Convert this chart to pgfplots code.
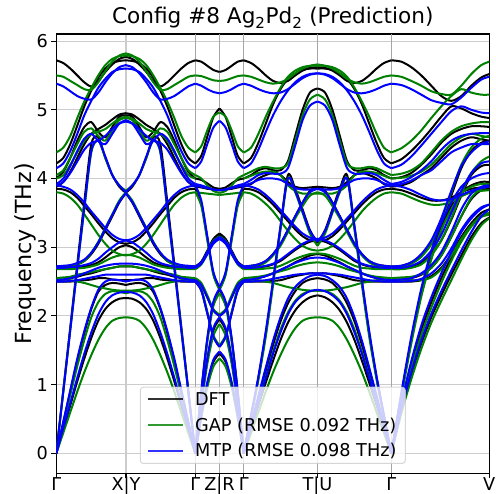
\documentclass[border=0pt]{standalone}
\usepackage{pgfplots}
\pgfplotsset{compat=1.18}
\usepackage{pgfplotstable}
\usepackage{fontspec}
\setmainfont{DejaVu Sans}
\definecolor{mplgreen}{RGB}{0,128,0}
\definecolor{mplblue}{RGB}{0,0,255}
\definecolor{gridc}{RGB}{204,204,204}
\definecolor{gridd}{RGB}{165,165,165}

% ---------- DFT ----------
\pgfplotstableread{
u    b1   b2   b3   b4   b5   b6   b7   b8   b9   b10  b11  b12
0    0    0    0    2.50 2.52 2.70 2.72 3.85 3.88 4.00 4.22 5.72
7    0.35 0.45 0.92 2.50 2.53 2.70 2.72 3.84 3.95 4.10 4.30 5.68
14   0.70 0.90 1.84 2.50 2.55 2.70 2.73 3.80 4.10 4.30 4.50 5.60
21   1.05 1.35 2.76 2.51 2.57 2.71 2.75 3.72 4.30 4.55 4.77 5.50
28   1.38 1.75 3.66 2.52 2.60 2.72 2.80 3.60 4.50 4.75 5.05 5.40
35   1.68 2.10 4.50 2.53 2.62 2.74 2.90 3.48 4.65 4.82 5.28 5.34
42   1.93 2.35 4.60 2.55 2.65 2.78 3.05 3.35 4.72 4.68 5.47 5.42
49   2.10 2.45 4.30 2.55 2.68 2.85 3.25 3.23 4.78 4.60 5.60 5.55
56   2.20 2.48 4.05 2.53 2.70 2.93 3.45 3.13 4.86 4.75 5.68 5.66
63   2.25 2.47 3.88 2.52 2.72 3.00 3.65 3.07 4.93 4.90 5.71 5.74
69.7 2.26 2.45 3.79 2.52 2.72 3.03 3.79 3.05 4.95 4.92 5.72 5.77
}\dftA
\pgfplotstableread{
u    b1   b2   b3   b4   b5   b6   b7   b8   b9   b10  b11  b12
0    0    0    0    2.50 2.52 2.70 2.72 3.85 3.88 4.00 4.22 5.72
6    0.55 0.73 0.90 2.37 2.45 2.77 2.79 3.64 3.87 3.98 4.33 5.70
12   1.01 1.36 1.66 2.04 2.27 2.93 2.95 3.14 3.85 3.93 4.61 5.64
18   1.33 1.79 2.19 1.70 2.08 3.10 3.12 2.63 3.84 3.87 4.89 5.58
24.2 1.45 1.95 2.38 1.55 2.00 3.18 3.20 2.40 3.83 3.85 5.02 5.55
}\dftB
\pgfplotstableread{
u    b1   b2   b3   b4   b5   b6   b7   b8   b9   b10  b11  b12
0    0    0    0    2.50 2.52 2.70 2.72 3.85 3.88 4.00 4.22 5.72
7.4  0.35 0.40 0.55 2.50 2.53 2.70 2.73 3.84 3.92 4.05 4.30 5.68
14.7 0.70 0.80 1.10 2.50 2.55 2.71 2.75 3.80 4.00 4.12 4.52 5.60
22.1 1.03 1.20 1.75 2.50 2.58 2.72 2.80 3.72 4.05 4.15 4.80 5.50
29.4 1.35 1.58 2.50 2.51 2.62 2.75 2.90 3.62 4.08 4.12 5.08 5.42
36.8 1.65 1.92 3.30 2.52 2.67 2.80 3.05 3.50 4.05 4.12 5.30 5.39
44.2 1.90 2.18 4.05 2.55 2.72 2.88 3.25 3.38 3.95 4.25 5.45 5.42
51.5 2.08 2.36 3.85 2.58 2.78 2.96 3.45 3.26 3.88 4.62 5.53 5.50
58.9 2.20 2.48 3.55 2.60 2.83 3.03 3.65 3.16 3.86 5.00 5.58 5.57
66.2 2.27 2.53 3.25 2.62 2.88 3.08 3.82 3.10 3.87 5.25 5.60 5.61
73.8 2.30 2.55 3.06 2.62 2.90 3.10 3.88 3.08 3.88 5.31 5.60 5.62
}\dftC
\pgfplotstableread{
u    b1   b2   b3   b4   b5   b6   b7   b8   b9   b10  b11  b12
0    0    0    0    2.50 2.52 2.70 2.72 3.85 3.88 4.00 4.22 5.72
10   0.62 0.70 0.85 2.50 2.53 2.70 2.73 3.83 3.90 4.02 4.28 5.70
20   1.15 1.30 1.65 2.50 2.55 2.72 2.78 3.78 3.95 4.08 4.40 5.62
30   1.60 1.80 2.35 2.52 2.60 2.78 2.88 3.72 4.05 4.20 4.55 5.50
40   1.98 2.20 2.90 2.58 2.70 2.90 3.05 3.68 4.15 4.35 4.72 5.35
50   2.30 2.55 3.30 2.70 2.88 3.10 3.35 3.68 4.30 4.52 4.90 5.20
60   2.60 2.85 3.60 2.90 3.15 3.40 3.75 3.72 4.45 4.65 5.05 5.13
70   2.88 3.12 3.80 3.15 3.45 3.75 4.15 3.80 4.55 4.72 5.02 5.20
80   3.15 3.32 3.90 3.35 3.70 4.05 4.40 3.85 4.60 4.76 4.95 5.35
90   3.35 3.45 3.95 3.50 3.83 4.18 4.52 3.87 4.57 4.76 4.90 5.47
98   3.43 3.48 3.95 3.55 3.85 4.20 4.55 3.88 4.55 4.75 4.88 5.52
}\dftD

% ---------- GAP ----------
\pgfplotstableread{
u    b1   b2   b3   b4   b5   b6   b7   b8   b9   b10  b11  b12
0    0    0    0    2.53 2.55 2.68 2.70 3.80 4.00 4.05 4.38 5.50
7    0.30 0.42 0.90 2.53 2.56 2.68 2.70 3.78 4.05 4.12 4.45 5.48
14   0.60 0.85 1.80 2.52 2.57 2.68 2.72 3.72 4.20 4.30 4.62 5.42
21   0.90 1.27 2.70 2.50 2.60 2.69 2.75 3.62 4.38 4.50 4.88 5.36
28   1.18 1.65 3.55 2.48 2.62 2.70 2.80 3.48 4.55 4.68 5.12 5.30
35   1.43 1.98 4.38 2.45 2.64 2.72 2.92 3.33 4.65 4.73 5.32 5.29
42   1.65 2.20 4.55 2.42 2.66 2.75 3.08 3.18 4.68 4.62 5.50 5.40
49   1.82 2.32 4.30 2.40 2.68 2.80 3.28 3.05 4.72 4.55 5.65 5.56
56   1.93 2.36 4.05 2.38 2.70 2.85 3.48 2.95 4.80 4.70 5.74 5.70
63   1.97 2.35 3.90 2.37 2.72 2.88 3.68 2.90 4.87 4.85 5.78 5.79
69.7 1.98 2.33 3.82 2.37 2.72 2.89 3.80 2.88 4.90 4.88 5.79 5.82
}\gapA
\pgfplotstableread{
u    b1   b2   b3   b4   b5   b6   b7   b8   b9   b10  b11  b12
0    0    0    0    2.53 2.55 2.68 2.70 3.80 3.80 4.05 4.38 5.50
6    0.52 0.70 0.88 2.40 2.48 2.75 2.77 3.60 3.79 4.00 4.47 5.49
12   0.96 1.30 1.62 2.06 2.30 2.90 2.93 3.10 3.78 3.90 4.70 5.46
18   1.26 1.71 2.14 1.72 2.10 3.06 3.09 2.60 3.77 3.82 4.90 5.43
24.2 1.38 1.88 2.33 1.57 2.02 3.13 3.16 2.38 3.76 3.79 4.96 5.42
}\gapB
\pgfplotstableread{
u    b1   b2   b3   b4   b5   b6   b7   b8   b9   b10  b11  b12
0    0    0    0    2.53 2.55 2.68 2.70 3.80 4.00 4.05 4.38 5.50
7.4  0.30 0.37 0.53 2.53 2.56 2.68 2.71 3.78 4.04 4.10 4.45 5.48
14.7 0.60 0.74 1.07 2.52 2.57 2.68 2.73 3.72 4.08 4.15 4.65 5.44
22.1 0.90 1.12 1.70 2.50 2.59 2.69 2.78 3.63 4.10 4.17 4.90 5.40
29.4 1.18 1.48 2.45 2.48 2.62 2.70 2.88 3.52 4.10 4.15 5.12 5.38
36.8 1.43 1.80 3.25 2.45 2.65 2.73 3.02 3.38 4.05 4.15 5.32 5.40
44.2 1.65 2.05 4.00 2.42 2.68 2.78 3.22 3.24 3.90 4.22 5.48 5.45
51.5 1.82 2.22 3.80 2.40 2.72 2.83 3.42 3.12 3.82 4.55 5.57 5.53
58.9 1.93 2.32 3.50 2.38 2.75 2.87 3.60 3.02 3.78 4.92 5.62 5.60
66.2 1.97 2.36 3.20 2.37 2.77 2.90 3.75 2.97 3.78 5.15 5.64 5.64
73.8 1.98 2.37 3.02 2.37 2.78 2.91 3.80 2.95 3.78 5.22 5.64 5.66
}\gapC
\pgfplotstableread{
u    b1   b2   b3   b4   b5   b6   b7   b8   b9   b10  b11  b12
0    0    0    0    2.53 2.55 2.68 2.70 3.80 4.00 4.05 4.38 5.50
10   0.58 0.66 0.82 2.53 2.56 2.68 2.71 3.78 4.01 4.07 4.44 5.48
20   1.08 1.24 1.60 2.52 2.57 2.70 2.76 3.72 4.04 4.12 4.55 5.42
30   1.52 1.72 2.28 2.52 2.61 2.75 2.86 3.66 4.10 4.22 4.70 5.35
40   1.90 2.12 2.82 2.56 2.70 2.88 3.05 3.62 4.20 4.38 4.88 5.27
50   2.22 2.48 3.25 2.68 2.88 3.10 3.38 3.62 4.35 4.55 5.05 5.23
60   2.52 2.80 3.55 2.88 3.15 3.42 3.80 3.66 4.50 4.68 5.20 5.22
70   2.82 3.08 3.78 3.12 3.45 3.78 4.20 3.74 4.60 4.76 5.30 5.35
80   3.10 3.30 3.88 3.32 3.72 4.08 4.45 3.80 4.65 4.80 5.25 5.52
90   3.32 3.44 3.92 3.46 3.85 4.25 4.58 3.82 4.62 4.82 5.22 5.65
98   3.42 3.47 3.92 3.50 3.88 4.32 4.62 3.83 4.60 4.82 5.22 5.70
}\gapD

% ---------- MTP ----------
\pgfplotstableread{
u    b1   b2   b3   b4   b5   b6   b7   b8   b9   b10  b11  b12
0    0    0    0    2.50 2.52 2.70 2.72 3.90 3.90 3.92 4.15 5.38
7    0.37 0.46 0.90 2.50 2.53 2.70 2.73 3.88 3.95 4.00 4.22 5.34
14   0.73 0.92 1.80 2.51 2.55 2.71 2.74 3.84 4.08 4.18 4.40 5.27
21   1.10 1.38 2.70 2.52 2.58 2.72 2.77 3.76 4.25 4.40 4.65 5.20
28   1.45 1.78 3.58 2.54 2.62 2.74 2.82 3.65 4.42 4.58 4.92 5.16
35   1.76 2.12 4.40 2.56 2.66 2.77 2.92 3.52 4.52 4.65 5.13 5.15
42   2.02 2.38 4.55 2.58 2.70 2.83 3.07 3.40 4.55 4.55 5.32 5.25
49   2.20 2.50 4.32 2.60 2.73 2.92 3.27 3.28 4.62 4.50 5.45 5.40
56   2.30 2.53 4.05 2.60 2.75 3.00 3.47 3.18 4.72 4.65 5.55 5.53
63   2.34 2.52 3.90 2.60 2.76 3.07 3.66 3.12 4.80 4.80 5.59 5.62
69.7 2.35 2.50 3.80 2.60 2.76 3.10 3.79 3.10 4.83 4.85 5.60 5.65
}\mtpA
\pgfplotstableread{
u    b1   b2   b3   b4   b5   b6   b7   b8   b9   b10  b11  b12
0    0    0    0    2.50 2.52 2.70 2.72 3.90 3.90 3.92 4.15 5.38
6    0.56 0.74 0.90 2.37 2.45 2.76 2.78 3.68 3.88 3.90 4.25 5.35
12   1.03 1.38 1.67 2.04 2.27 2.90 2.93 3.16 3.86 3.87 4.50 5.30
18   1.36 1.82 2.20 1.70 2.08 3.05 3.08 2.64 3.84 3.84 4.74 5.26
24.2 1.48 1.98 2.40 1.55 2.00 3.12 3.15 2.42 3.83 3.83 4.84 5.24
}\mtpB
\pgfplotstableread{
u    b1   b2   b3   b4   b5   b6   b7   b8   b9   b10  b11  b12
0    0    0    0    2.50 2.52 2.70 2.72 3.90 3.90 3.92 4.15 5.38
7.4  0.37 0.42 0.56 2.50 2.53 2.70 2.73 3.88 3.93 3.98 4.22 5.35
14.7 0.73 0.84 1.12 2.51 2.55 2.71 2.75 3.84 3.98 4.05 4.42 5.30
22.1 1.10 1.25 1.78 2.52 2.58 2.73 2.80 3.76 4.00 4.08 4.68 5.26
29.4 1.45 1.64 2.52 2.54 2.62 2.76 2.90 3.66 4.00 4.07 4.92 5.24
36.8 1.76 1.98 3.30 2.56 2.67 2.82 3.05 3.54 3.98 4.07 5.12 5.25
44.2 2.02 2.25 4.00 2.58 2.72 2.90 3.25 3.42 3.92 4.15 5.28 5.30
51.5 2.20 2.42 3.82 2.60 2.77 2.98 3.45 3.30 3.86 4.48 5.40 5.38
58.9 2.30 2.52 3.52 2.61 2.81 3.05 3.65 3.20 3.84 4.85 5.48 5.46
66.2 2.36 2.58 3.24 2.62 2.84 3.10 3.80 3.14 3.84 5.06 5.52 5.51
73.8 2.38 2.60 3.08 2.62 2.85 3.12 3.85 3.12 3.85 5.12 5.53 5.53
}\mtpC
\pgfplotstableread{
u    b1   b2   b3   b4   b5   b6   b7   b8   b9   b10  b11  b12
0    0    0    0    2.50 2.52 2.70 2.72 3.90 3.90 3.92 4.15 5.38
10   0.64 0.72 0.88 2.50 2.53 2.70 2.73 3.88 3.92 3.95 4.20 5.36
20   1.18 1.34 1.70 2.51 2.55 2.73 2.78 3.83 3.97 4.02 4.32 5.30
30   1.64 1.86 2.40 2.54 2.62 2.80 2.90 3.76 4.05 4.12 4.48 5.22
40   2.03 2.27 2.95 2.62 2.74 2.95 3.10 3.70 4.12 4.25 4.65 5.14
50   2.36 2.62 3.35 2.76 2.93 3.18 3.42 3.68 4.25 4.42 4.82 5.10
60   2.66 2.93 3.65 2.98 3.22 3.50 3.82 3.70 4.38 4.55 4.98 5.08
70   2.95 3.22 3.88 3.25 3.55 3.82 4.18 3.76 4.45 4.62 5.05 5.18
80   3.22 3.42 4.00 3.45 3.78 4.08 4.38 3.82 4.50 4.65 5.00 5.32
90   3.45 3.56 4.06 3.58 3.88 4.22 4.50 3.86 4.50 4.66 4.96 5.44
98   3.55 3.62 4.08 3.62 3.90 4.25 4.54 3.88 4.50 4.66 4.95 5.48
}\mtpD

\newcommand{\bands}[3]{%
  \pgfplotsinvokeforeach{1,...,12}{%
    \addplot[#2, forget plot] table[#3, y=b##1]{#1};}}
\newcommand{\fullpath}[5]{% A B C D style
  \bands{#1}{#5}{x=u}
  \bands{#1}{#5}{x expr={139-\thisrow{u}}}
  \bands{#2}{#5}{x expr={139+\thisrow{u}}}
  \bands{#2}{#5}{x expr={187.4-\thisrow{u}}}
  \bands{#3}{#5}{x expr={187.4+\thisrow{u}}}
  \bands{#3}{#5}{x expr={335-\thisrow{u}}}
  \bands{#4}{#5}{x expr={335+\thisrow{u}}}}

\begin{document}
\begin{tikzpicture}
\useasboundingbox (-56.3pt,-20.7pt) rectangle (439.7pt,473.3pt);
\begin{axis}[
  at={(0pt,0pt)}, anchor=south west,
  scale only axis, width=433pt, height=439.3pt,
  xmin=0, xmax=433, ymin=-0.29, ymax=6.103,
  xtick={0,69.7,139,163.2,187.4,261.2,335,433},
  xticklabels={Γ,X|Y,Γ,Z|R,Γ,T|U,Γ,V},
  ytick={0,1,2,3,4,5,6},
  tick pos=left, tick align=outside,
  major tick length=4.9pt,
  every tick/.style={black, line width=1.1pt},
  axis line style={line width=1.1pt},
  grid=major,
  major grid style={gridc, line width=1.1pt},
  extra x ticks={139,163.2,187.4,261.2,335},
  extra x tick labels={},
  extra x tick style={grid=major, major grid style={gridd, line width=1.1pt}, major tick length=0pt},
  /pgf/number format/assume math mode=true,
  tick label style={font=\fontsize{17.7}{20}\selectfont},
  xticklabel style={inner sep=0pt, anchor=north, yshift=1pt},
  ylabel={Frequency (THz)},
  ylabel style={font=\fontsize{22.2}{26}\selectfont, at={(axis description cs:-0.0716,0.5)}, anchor=center},
  title={Config \#8 Ag\textsubscript{2}Pd\textsubscript{2} (Prediction)},
  title style={font=\fontsize{21.6}{26}\selectfont, at={(axis description cs:0.5,1)}, anchor=base, yshift=4pt, inner sep=0pt},
  legend style={at={(0.5,0)}, anchor=south, yshift=9.3pt,
    draw=gridc, line width=1pt, fill=white, fill opacity=0.8, draw opacity=0.8, text opacity=1,
    rounded corners=3pt, inner xsep=6.7pt, inner ysep=3pt,
    font=\fontsize{17.7}{20}\selectfont,
    row sep=7pt},
  legend cell align=left,
  legend image code/.code={\draw[#1] (0pt,0pt) -- (35pt,0pt); \path (44pt,0pt);},
  dft/.style={black, line width=2pt, smooth},
  gap/.style={mplgreen, line width=2pt, smooth},
  mtp/.style={mplblue, line width=2pt, smooth},
]
\addlegendimage{black, line width=2pt}
\addlegendentry{DFT}
\addlegendimage{mplgreen, line width=2pt}
\addlegendentry{GAP (RMSE 0.092 THz)}
\addlegendimage{mplblue, line width=2pt}
\addlegendentry{MTP (RMSE 0.098 THz)}
\fullpath{\dftA}{\dftB}{\dftC}{\dftD}{dft}
\fullpath{\gapA}{\gapB}{\gapC}{\gapD}{gap}
\fullpath{\mtpA}{\mtpB}{\mtpC}{\mtpD}{mtp}
\end{axis}
\end{tikzpicture}
\end{document}
